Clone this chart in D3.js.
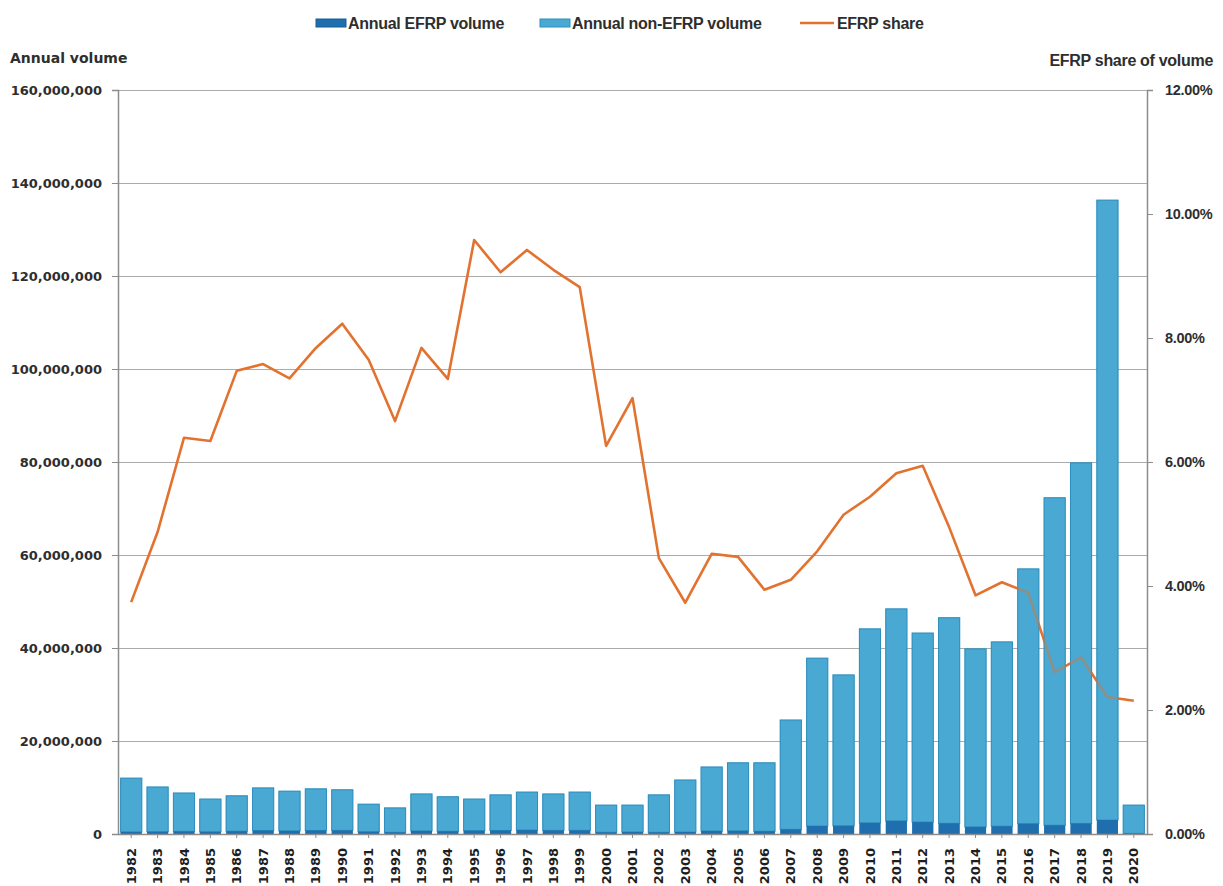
<!DOCTYPE html>
<html>
<head>
<meta charset="utf-8">
<script src="https://cdn.jsdelivr.net/npm/d3@7"></script>
<style>
  body { margin: 0; background: #fff; }
  svg { display: block; }
</style>
</head>
<body>
<div id="chart"></div>
<script>
// Data
const years = ["1982", "1983", "1984", "1985", "1986", "1987", "1988", "1989", "1990", "1991",
    "1992", "1993", "1994", "1995", "1996", "1997", "1998", "1999", "2000", "2001",
    "2002", "2003", "2004", "2005", "2006", "2007", "2008", "2009", "2010", "2011",
    "2012", "2013", "2014", "2015", "2016", "2017", "2018", "2019", "2020"];

const efrpVolume = [450000, 490000, 560000, 480000, 610000, 750000, 680000, 760000, 780000, 490000,
    370000, 670000, 590000, 720000, 760000, 850000, 780000, 790000, 390000, 440000,
    370000, 430000, 650000, 680000, 600000, 1000000, 1720000, 1760000, 2400000, 2820000,
    2570000, 2300000, 1530000, 1680000, 2220000, 1890000, 2270000, 3010000, 130000];

const nonEfrpVolume = [11550000, 9610000, 8240000, 7020000, 7590000, 9150000, 8520000, 8940000, 8720000, 5910000,
    5230000, 7930000, 7410000, 6780000, 7640000, 8150000, 7820000, 8210000, 5810000, 5760000,
    8030000, 11170000, 13750000, 14620000, 14700000, 23500000, 36080000, 32440000, 41700000, 45580000,
    40630000, 44200000, 38270000, 39620000, 54780000, 70410000, 77530000, 133290000, 6070000];

const efrpShare = [0.0374, 0.0487, 0.0639, 0.0634, 0.0747, 0.0758, 0.0735, 0.0784, 0.0823, 0.0765,
    0.0666, 0.0784, 0.0734, 0.0958, 0.0906, 0.0942, 0.0910, 0.0882, 0.0626, 0.0703,
    0.0445, 0.0373, 0.0452, 0.0447, 0.0394, 0.0410, 0.0456, 0.0515, 0.0544, 0.0582,
    0.0594, 0.0495, 0.0385, 0.0406, 0.0389, 0.0261, 0.0285, 0.0221, 0.0215];

const volumeTicks = [0, 20000000, 40000000, 60000000, 80000000, 100000000, 120000000, 140000000, 160000000];
const shareTicks = [0, 0.02, 0.04, 0.06, 0.08, 0.10, 0.12];

const seriesNames = ["Annual EFRP volume", "Annual non-EFRP volume", "EFRP share"];

const colEfrp = "#1f6fae";
const colNonEfrp = "#49a9d2";
const colLine = "#e2722f";
const textCol = "#2e2e2e";

const margin = { top: 90, right: 76, bottom: 52, left: 118 };
const totalW = 1223, totalH = 886;
const width = totalW - margin.left - margin.right;
const height = totalH - margin.top - margin.bottom;

const svg = d3.select("#chart").append("svg")
    .attr("width", totalW)
    .attr("height", totalH);

const g = svg.append("g")
    .attr("transform", "translate(" + margin.left + "," + margin.top + ")");

const x = d3.scaleBand()
    .domain(years)
    .range([0, width])
    .paddingInner(0.2)
    .paddingOuter(0.1);

const yLeft = d3.scaleLinear()
    .domain([0, 160000000])
    .range([height, 0]);

const yRight = d3.scaleLinear()
    .domain([0, 0.12])
    .range([height, 0]);

// gridlines
g.append("g")
    .selectAll("line")
    .data(volumeTicks)
    .enter().append("line")
    .attr("x1", 0)
    .attr("x2", width)
    .attr("y1", d => yLeft(d) + 0.5)
    .attr("y2", d => yLeft(d) + 0.5)
    .attr("stroke", "#ababab")
    .attr("stroke-width", 1.2);

// stacked bars
const rows = years.map((yr, i) => ({ year: yr, efrp: efrpVolume[i], non: nonEfrpVolume[i], share: efrpShare[i] }));

function drawBars(layer) {
    layer.selectAll(".non")
        .data(rows)
        .enter().append("rect")
        .attr("class", "non")
        .attr("x", d => x(d.year))
        .attr("y", d => yLeft(d.efrp + d.non))
        .attr("width", x.bandwidth())
        .attr("height", d => yLeft(d.efrp) - yLeft(d.efrp + d.non))
        .attr("fill", colNonEfrp)
        .attr("stroke", "#2f8fbf")
        .attr("stroke-width", 1);

    layer.selectAll(".efrp")
        .data(rows)
        .enter().append("rect")
        .attr("class", "efrp")
        .attr("x", d => x(d.year))
        .attr("y", d => yLeft(d.efrp))
        .attr("width", x.bandwidth())
        .attr("height", d => height - yLeft(d.efrp))
        .attr("fill", colEfrp);
}

drawBars(g.append("g"));

// EFRP share line
const line = d3.line()
    .x(d => x(d.year) + x.bandwidth() / 2)
    .y(d => yRight(d.share));

g.append("path")
    .datum(rows)
    .attr("fill", "none")
    .attr("stroke", colLine)
    .attr("stroke-width", 2.6)
    .attr("stroke-linejoin", "round")
    .attr("d", line);

// bars again, half see-through, so the line looks greyed where it crosses them (as in the scan)
drawBars(g.append("g").attr("opacity", 0.55));

// left axis
const axisL = g.append("g")
    .call(d3.axisLeft(yLeft).tickValues(volumeTicks).tickSize(6).tickPadding(10)
        .tickFormat(d => d === 0 ? "0" : d3.format(",")(d)));
axisL.select(".domain").attr("stroke", "#8c8c8c").attr("stroke-width", 1.5);
axisL.selectAll(".tick line").attr("stroke", "#8c8c8c");
axisL.selectAll("text")
    .attr("fill", textCol)
    .style("font-family", "'DejaVu Sans', Verdana, sans-serif")
    .style("font-weight", "bold")
    .style("font-size", "13px");

// right axis
const axisR = g.append("g")
    .attr("transform", "translate(" + width + ",0)")
    .call(d3.axisRight(yRight).tickValues(shareTicks).tickSize(6).tickPadding(12)
        .tickFormat(d3.format(".2%")));
axisR.select(".domain").attr("stroke", "#8c8c8c").attr("stroke-width", 1.5);
axisR.selectAll(".tick line").attr("stroke", "#8c8c8c");
axisR.selectAll("text")
    .attr("fill", textCol)
    .style("font-family", "'Liberation Sans', Arial, sans-serif")
    .style("font-weight", "bold")
    .style("font-size", "14.5px")
    .style("letter-spacing", "-0.3px");

// bottom axis
const axisB = g.append("g")
    .attr("transform", "translate(0," + height + ")")
    .call(d3.axisBottom(x).tickSize(4).tickSizeOuter(0));
axisB.select(".domain").attr("stroke", "#8c8c8c").attr("stroke-width", 1.5);
axisB.selectAll(".tick line").attr("stroke", "#8c8c8c");
axisB.selectAll("text")
    .attr("transform", "rotate(-90)")
    .attr("x", -14)
    .attr("y", 0)
    .attr("dy", "0.35em")
    .style("text-anchor", "end")
    .attr("fill", "#1e1e1e")
    .style("font-family", "'DejaVu Sans', Verdana, sans-serif")
    .style("font-weight", "bold")
    .style("font-size", "13px");

// axis titles
svg.append("text")
    .attr("x", 10)
    .attr("y", 63)
    .attr("fill", textCol)
    .style("font-family", "'DejaVu Sans', Verdana, sans-serif")
    .style("font-weight", "bold")
    .style("font-size", "14px")
    .text("Annual volume");

svg.append("text")
    .attr("x", 1213)
    .attr("y", 66)
    .attr("fill", textCol)
    .style("text-anchor", "end")
    .style("font-family", "'Liberation Sans', Arial, sans-serif")
    .style("font-weight", "bold")
    .style("font-size", "16px")
    .style("letter-spacing", "-0.3px")
    .text("EFRP share of volume");

// legend
const legendX = [316, 540, 800];
const legend = svg.selectAll(".legend")
    .data(seriesNames)
    .enter().append("g")
    .attr("class", "legend")
    .attr("transform", (d, i) => "translate(" + legendX[i] + ",23)");

legend.each(function(d, i) {
    const item = d3.select(this);
    if (i < 2) {
        item.append("rect")
            .attr("x", 0)
            .attr("y", -4)
            .attr("width", 30)
            .attr("height", 8)
            .attr("fill", i === 0 ? colEfrp : colNonEfrp)
            .attr("stroke", i === 0 ? "#175f98" : "#2f8fbf");
    } else {
        item.append("line")
            .attr("x1", 0)
            .attr("x2", 34)
            .attr("stroke", colLine)
            .attr("stroke-width", 2.6);
    }
    item.append("text")
        .attr("x", i < 2 ? 32 : 37)
        .attr("dy", "0.35em")
        .attr("fill", textCol)
        .style("font-family", "'Liberation Sans', Arial, sans-serif")
        .style("font-weight", "bold")
        .style("font-size", "16px")
        .style("letter-spacing", "-0.3px")
        .text(d);
});
</script>
</body>
</html>
